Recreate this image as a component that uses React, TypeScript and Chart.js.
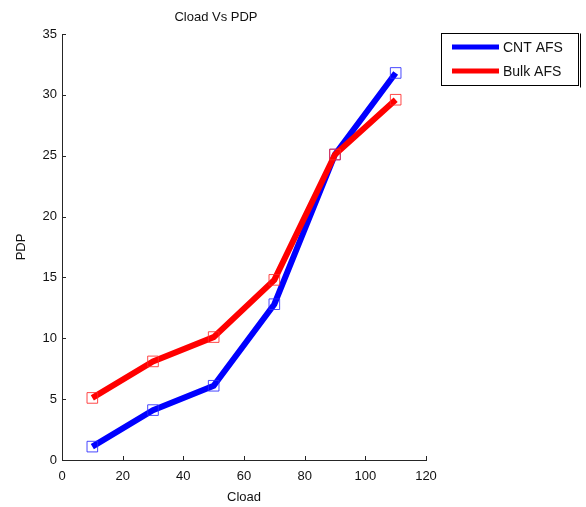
import React, { useEffect, useRef } from "react";
import { Chart, registerables } from "chart.js";

Chart.register(...registerables);

const cloadValues = [10, 30, 50, 70, 90, 110];
const cntAfs = [1.1, 4.1, 6.1, 12.8, 25.1, 31.8];
const bulkAfs = [5.1, 8.1, 10.1, 14.8, 25.1, 29.6];
const seriesNames = ["CNT AFS", "Bulk AFS"];
const seriesColors = ["#0000ff", "#ff0000"];
const markerColors = ["rgba(40,40,255,0.85)", "rgba(255,40,40,0.85)"];
const chartTitle = "Cload Vs PDP";
const xTitle = "Cload";
const yTitle = "PDP";

const FONT = "'Liberation Sans', Arial, sans-serif";
const AXIS_COLOR = "#262626";

// Inward tick marks, title and boxed legend drawn in MATLAB style
const decorations = {
  id: "decorations",
  afterDraw(chart: any) {
    const { ctx, chartArea, scales } = chart;
    const x = scales.x;
    const y = scales.y;
    ctx.save();
    ctx.strokeStyle = AXIS_COLOR;
    ctx.lineWidth = 1;
    ctx.beginPath();
    x.ticks.forEach((t: any) => {
      const px = Math.round(x.getPixelForValue(t.value)) + 0.5;
      ctx.moveTo(px, chartArea.bottom);
      ctx.lineTo(px, chartArea.bottom - 4);
    });
    y.ticks.forEach((t: any) => {
      const py = Math.round(y.getPixelForValue(t.value)) + 0.5;
      ctx.moveTo(chartArea.left, py);
      ctx.lineTo(chartArea.left + 4, py);
    });
    ctx.stroke();

    // title
    ctx.fillStyle = "#111";
    ctx.font = `13px ${FONT}`;
    ctx.textAlign = "center";
    ctx.textBaseline = "middle";
    ctx.fillText(chartTitle, 216, 17);

    // legend
    const lx = 441.5, ly = 33.5, lw = 137, lh = 52;
    ctx.fillStyle = "#fff";
    ctx.fillRect(lx, ly, lw, lh);
    ctx.strokeStyle = "#000";
    ctx.lineWidth = 1;
    ctx.strokeRect(lx, ly, lw, lh);
    ctx.beginPath();
    ctx.moveTo(lx + lw + 2, ly);
    ctx.lineTo(lx + lw + 2, ly + lh + 2);
    ctx.stroke();
    seriesNames.forEach((name, i) => {
      const rowY = 47 + i * 24;
      ctx.strokeStyle = seriesColors[i];
      ctx.lineWidth = 5;
      ctx.beginPath();
      ctx.moveTo(452, rowY);
      ctx.lineTo(499, rowY);
      ctx.stroke();
      ctx.fillStyle = "#111";
      ctx.font = `14px ${FONT}`;
      ctx.textAlign = "left";
      ctx.textBaseline = "middle";
      ctx.fillText(name, 503, rowY + 1);
    });
    ctx.restore();
  },
};

export default function App() {
  const canvasRef = useRef<HTMLCanvasElement | null>(null);

  useEffect(() => {
    if (!canvasRef.current) return;
    const toPoints = (vals: number[]) => vals.map((v, i) => ({ x: cloadValues[i], y: v }));
    const chart = new Chart(canvasRef.current, {
      type: "line",
      data: {
        datasets: [cntAfs, bulkAfs].map((vals, i) => ({
          label: seriesNames[i],
          data: toPoints(vals),
          borderColor: seriesColors[i],
          borderWidth: 6,
          backgroundColor: "transparent",
          pointStyle: "rect",
          pointRadius: 7.5,
          pointBorderWidth: 1,
          pointBorderColor: markerColors[i],
          pointBackgroundColor: "transparent",
          tension: 0,
          order: i === 0 ? 1 : 0,
        })),
      },
      options: {
        responsive: false,
        animation: false,
        layout: { padding: { left: 0, top: 34, right: 160, bottom: 0 } },
        plugins: { legend: { display: false }, tooltip: { enabled: false }, title: { display: false } },
        scales: {
          x: {
            type: "linear",
            min: 0,
            max: 120,
            ticks: { stepSize: 20, color: "#111", padding: 9, font: { size: 13, family: FONT } },
            grid: { display: false, drawTicks: false },
            border: { display: true, color: AXIS_COLOR, width: 1 },
            title: { display: true, text: xTitle, color: "#111", font: { size: 13, family: FONT }, padding: { top: 2, bottom: 2 } },
            afterFit: (s: any) => { s.height = 47; },
          },
          y: {
            type: "linear",
            min: 0,
            max: 35,
            ticks: { stepSize: 5, color: "#111", padding: 5, font: { size: 13, family: FONT } },
            grid: { display: false, drawTicks: false },
            border: { display: true, color: AXIS_COLOR, width: 1 },
            title: { display: true, text: yTitle, color: "#111", font: { size: 13, family: FONT }, padding: { top: 14, bottom: 0 } },
            afterFit: (s: any) => { s.width = 62; },
          },
        },
      },
      plugins: [decorations],
    });
    return () => chart.destroy();
  }, []);

  return (
    <div style={{ position: "fixed", left: 0, top: 0, width: 586, height: 507, background: "#fff" }}>
      <canvas ref={canvasRef} width={586} height={507} />
    </div>
  );
}
